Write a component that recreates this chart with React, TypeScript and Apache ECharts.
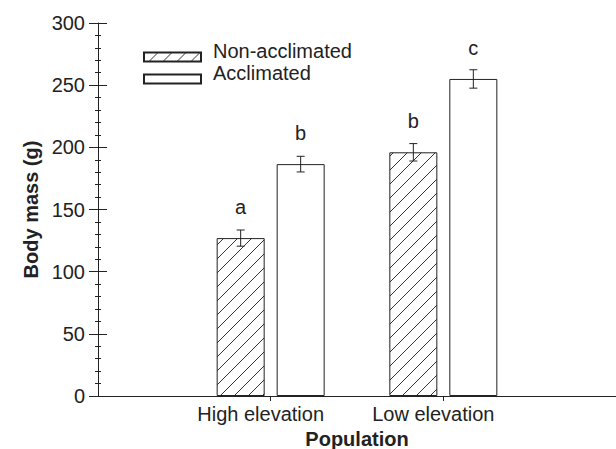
import React, { useEffect, useRef } from "react";
import * as echarts from "echarts";

const categories = ["High elevation", "Low elevation"];
const nonAcclimated = [127, 196];
const acclimated = [186.5, 255];
const nonAcclimatedErr = [6.5, 7];
const acclimatedErr = [6.3, 7.4];
const nonAcclimatedLetters = ["a", "b"];
const acclimatedLetters = ["b", "c"];
const yMin = 0;
const yMax = 300;
const yInterval = 50;

const FONT = "Liberation Sans, Arial, Helvetica, sans-serif";
const INK = "#222";
const BAR_W = 48;
const BAR_GAP_PX = 12;

function makeHatch(): HTMLCanvasElement {
  const s = 14;
  const c = document.createElement("canvas");
  c.width = s;
  c.height = s;
  const ctx = c.getContext("2d")!;
  ctx.fillStyle = "#fff";
  ctx.fillRect(0, 0, s, s);
  ctx.strokeStyle = "#333";
  ctx.lineWidth = 1;
  ctx.beginPath();
  ctx.moveTo(0, s);
  ctx.lineTo(s, 0);
  ctx.moveTo(-2, 2);
  ctx.lineTo(2, -2);
  ctx.moveTo(s - 2, s + 2);
  ctx.lineTo(s + 2, s - 2);
  ctx.stroke();
  return c;
}

export default function App() {
  const ref = useRef<HTMLDivElement>(null);
  useEffect(() => {
    if (!ref.current) return;
    const chart = echarts.init(ref.current, undefined, { renderer: "svg" });
    const axisCats = ["", ...categories, ""];
    const pad = (arr: any[]) => ["-", ...arr, "-"];
    const hatch = { image: makeHatch(), repeat: "repeat" };
    const offset = BAR_W / 2 + BAR_GAP_PX / 2;

    const errSeries = (means: number[], errs: number[], dx: number) => ({
      type: "custom",
      z: 5,
      silent: true,
      data: means.map((m, i) => [i + 1, m - errs[i], m + errs[i]]),
      encode: { x: 0, y: [1, 2] },
      renderItem: (params: any, api: any) => {
        const hi = api.coord([api.value(0), api.value(2)]);
        const lo = api.coord([api.value(0), api.value(1)]);
        const x = hi[0] + dx;
        const cap = 4;
        const style = { stroke: INK, lineWidth: 1 };
        return {
          type: "group",
          children: [
            { type: "line", shape: { x1: x, y1: hi[1], x2: x, y2: lo[1] }, style },
            { type: "line", shape: { x1: x - cap, y1: hi[1], x2: x + cap, y2: hi[1] }, style },
            { type: "line", shape: { x1: x - cap, y1: lo[1], x2: x + cap, y2: lo[1] }, style },
          ],
        };
      },
    });

    const letterLabel = (letters: string[]) => ({
      show: true,
      position: "top",
      distance: 21,
      fontSize: 20,
      fontFamily: FONT,
      color: INK,
      formatter: (p: any) => letters[p.dataIndex - 1] ?? "",
    });

    const yBase = {
      type: "value",
      min: yMin,
      max: yMax,
      interval: yInterval,
      position: "left",
      splitLine: { show: false },
      minorSplitLine: { show: false },
    };

    chart.setOption({
      animation: false,
      textStyle: { fontFamily: FONT },
      grid: {
        left: 98,
        right: 0,
        top: 23,
        bottom: 53,
        containLabel: false,
        outerBoundsMode: "none",
      },
      legend: {
        orient: "vertical",
        left: 143,
        top: 41,
        padding: 0,
        itemWidth: 57,
        itemHeight: 9,
        itemGap: -10,
        icon: "rect",
        selectedMode: false,
        data: ["Non-acclimated", "Acclimated"],
        formatter: "{t|{name}}",
        textStyle: {
          fontSize: 20,
          color: INK,
          fontFamily: FONT,
          rich: {
            t: { fontSize: 20, color: INK, fontFamily: FONT, lineHeight: 20, padding: [0, 0, 12, 7] },
          },
        },
      },
      xAxis: {
        type: "category",
        data: axisCats,
        boundaryGap: false,
        axisLine: { lineStyle: { color: INK, width: 1 } },
        axisTick: {
          show: true,
          length: 5,
          interval: (i: number) => i > 0 && i < axisCats.length - 1,
          lineStyle: { color: INK },
        },
        axisLabel: {
          interval: 0,
          fontSize: 20,
          color: INK,
          fontFamily: FONT,
          margin: 8,
          padding: [0, 20, 0, 0],
        },
        name: "Population",
        nameLocation: "middle",
        nameGap: 30,
        nameTextStyle: { fontSize: 20, fontWeight: "bold", color: INK, fontFamily: FONT },
      },
      yAxis: [
        {
          ...yBase,
          axisLine: { show: true, lineStyle: { color: INK, width: 1 } },
          axisTick: { show: true, inside: false, length: 9, lineStyle: { color: INK } },
          minorTick: { show: true, splitNumber: 5, length: 3, lineStyle: { color: INK } },
          axisLabel: { fontSize: 20, color: INK, fontFamily: FONT, margin: 13 },
          name: "Body mass (g)",
          nameLocation: "middle",
          nameGap: 56,
          nameTextStyle: { fontSize: 20, fontWeight: "bold", color: INK, fontFamily: FONT },
        },
        {
          ...yBase,
          axisLine: { show: false },
          axisTick: { show: true, inside: true, length: 9, lineStyle: { color: INK } },
          minorTick: { show: true, splitNumber: 5, length: 3, lineStyle: { color: INK } },
          axisLabel: { show: false },
        },
      ],
      series: [
        {
          name: "Non-acclimated",
          type: "bar",
          data: pad(nonAcclimated),
          barWidth: BAR_W,
          barGap: `${(BAR_GAP_PX / BAR_W) * 100}%`,
          itemStyle: { color: hatch, borderColor: INK, borderWidth: 1 },
          label: letterLabel(nonAcclimatedLetters),
        },
        {
          name: "Acclimated",
          type: "bar",
          data: pad(acclimated),
          barWidth: BAR_W,
          barGap: `${(BAR_GAP_PX / BAR_W) * 100}%`,
          itemStyle: { color: "#fff", borderColor: INK, borderWidth: 1 },
          label: letterLabel(acclimatedLetters),
        },
        errSeries(nonAcclimated, nonAcclimatedErr, -offset),
        errSeries(acclimated, acclimatedErr, offset),
      ],
    });
    return () => chart.dispose();
  }, []);
  return (
    <div
      ref={ref}
      style={{ position: "fixed", left: 0, top: 0, width: 616, height: 449, background: "#fff" }}
    />
  );
}
